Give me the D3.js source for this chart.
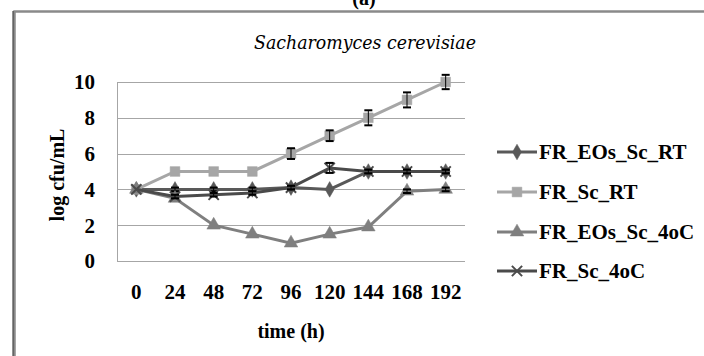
<!DOCTYPE html>
<html>
<head>
<meta charset="utf-8">
<script src="https://cdn.jsdelivr.net/npm/d3@7"></script>
<style>
  body { margin: 0; background: #fff; }
  svg { display: block; }
  text { font-family: "Liberation Serif", "DejaVu Serif", serif; }
</style>
</head>
<body>
<div id="chart"></div>
<script>
const times = ["0", "24", "48", "72", "96", "120", "144", "168", "192"];
const seriesNames = ["FR_EOs_Sc_RT", "FR_Sc_RT", "FR_EOs_Sc_4oC", "FR_Sc_4oC"];
const eosScRT = [4, 4, 4, 4, 4.1, 4, 5, 5, 5];
const scRT = [4, 5, 5, 5, 6, 7, 8, 9, 10];
const eosSc4 = [4, 3.5, 2, 1.5, 1, 1.5, 1.9, 3.9, 4];
const sc4 = [4, 3.6, 3.7, 3.8, 4.1, 5.2, 5, 5, 5];
const eosScRTErr = [0, 0.1, 0.1, 0.1, 0.1, 0, 0.1, 0.1, 0.1];
const scRTErr = [0, 0, 0, 0, 0.3, 0.3, 0.42, 0.42, 0.4];
const eosSc4Err = [0, 0, 0, 0, 0, 0, 0, 0.1, 0.1];
const sc4Err = [0, 0.1, 0.1, 0.1, 0.1, 0.28, 0.1, 0.1, 0.1];
const yTicks = [0, 2, 4, 6, 8, 10];

const width = 704, height = 356;
const svg = d3.select("#chart").append("svg")
  .attr("width", width).attr("height", height);

// frame (runs off the right and bottom edges)
svg.append("rect").attr("x", 14.5).attr("y", 11.5).attr("width", 720).attr("height", 400)
  .attr("fill", "none").attr("stroke", "#8a8a8a").attr("stroke-width", 2.5);
svg.append("line").attr("x1", 13).attr("x2", 13).attr("y1", 11).attr("y2", height)
  .attr("stroke", "#222").attr("stroke-width", 1);

svg.append("text").attr("x", 364).attr("y", 5).attr("text-anchor", "middle")
  .style("font-size", "20px").style("font-weight", "bold").text("(a)");

const x = d3.scaleBand().domain(times).range([117, 465]);
const y = d3.scaleLinear().domain([0, 10]).range([261, 82]);
const cx = d => x(d) + x.bandwidth() / 2;

// grid
svg.append("g").selectAll("line").data(yTicks.slice(1)).join("line")
  .attr("x1", 117).attr("x2", 465)
  .attr("y1", d => Math.round(y(d)) + 0.5).attr("y2", d => Math.round(y(d)) + 0.5)
  .attr("stroke", "#a6a6a6").attr("stroke-width", 1);
svg.append("line").attr("x1", 117).attr("x2", 465).attr("y1", y(0) + 0.5).attr("y2", y(0) + 0.5)
  .attr("stroke", "#a6a6a6");
svg.append("line").attr("x1", 117.5).attr("x2", 117.5).attr("y1", y(10)).attr("y2", y(0))
  .attr("stroke", "#a6a6a6");

// y labels
svg.append("g").selectAll("text").data(yTicks).join("text")
  .attr("x", 95).attr("y", d => y(d)).attr("dy", "0.35em").attr("text-anchor", "end")
  .style("font-size", "21px").style("font-weight", "bold").text(d => d);

// x labels
svg.append("g").selectAll("text").data(times).join("text")
  .attr("x", d => cx(d)).attr("y", 292).attr("dy", "0.35em").attr("text-anchor", "middle")
  .style("font-size", "21px").style("font-weight", "bold").text(d => d);

svg.append("text").attr("x", 291).attr("y", 331).attr("dy", "0.35em").attr("text-anchor", "middle")
  .style("font-size", "20px").style("font-weight", "bold").text("time (h)");

svg.append("text").attr("transform", "translate(57,175) rotate(-90)").attr("dy", "0.35em")
  .attr("text-anchor", "middle")
  .style("font-size", "20px").style("font-weight", "bold").text("log cfu/mL");

// chart title, italic serif
svg.append("text").attr("x", 365).attr("y", 43).attr("dy", "0.35em").attr("text-anchor", "middle")
  .attr("textLength", 222).attr("lengthAdjust", "spacingAndGlyphs")
  .style("font-family", "'DejaVu Serif', serif")
  .style("font-size", "18px").style("font-style", "italic").text("Sacharomyces cerevisiae");

const series = [
  { name: seriesNames[0], values: eosScRT, err: eosScRTErr, color: "#595959", marker: "diamond" },
  { name: seriesNames[1], values: scRT, err: scRTErr, color: "#a6a6a6", marker: "square" },
  { name: seriesNames[2], values: eosSc4, err: eosSc4Err, color: "#7f7f7f", marker: "triangle" },
  { name: seriesNames[3], values: sc4, err: sc4Err, color: "#4a4a4a", marker: "cross" }
];

const symbols = {
  diamond: d3.symbol().type(d3.symbolDiamond).size(70),
  square: d3.symbol().type(d3.symbolSquare).size(95),
  triangle: d3.symbol().type(d3.symbolTriangle).size(80),
  cross: d3.symbol().type(d3.symbolX).size(70)
};

function drawMarker(g, s, px, py) {
  const p = g.append("path").attr("d", symbols[s.marker]()).attr("transform", `translate(${px},${py})`);
  if (s.marker === "cross") {
    p.attr("fill", "none").attr("stroke", s.color).attr("stroke-width", 2);
  } else {
    p.attr("fill", s.color).attr("stroke", s.color).attr("stroke-width", 0.5);
  }
}

const line = d3.line().x((d, i) => cx(times[i])).y(d => y(d));

series.forEach(s => {
  const g = svg.append("g");
  g.append("path").datum(s.values).attr("d", line)
    .attr("fill", "none").attr("stroke", s.color).attr("stroke-width", 3);
  s.values.forEach((v, i) => drawMarker(g, s, cx(times[i]), y(v)));
  // error bars
  s.values.forEach((v, i) => {
    const e = s.err[i];
    if (!e) return;
    const px = cx(times[i]);
    g.append("line").attr("x1", px).attr("x2", px).attr("y1", y(v + e)).attr("y2", y(v - e))
      .attr("stroke", "#000").attr("stroke-width", 1);
    [v + e, v - e].forEach(b => {
      g.append("line").attr("x1", px - 4).attr("x2", px + 4).attr("y1", y(b)).attr("y2", y(b))
        .attr("stroke", "#000").attr("stroke-width", 2);
    });
  });
});

// legend
const legendY = [152, 192, 232, 271];
series.forEach((s, i) => {
  const g = svg.append("g").attr("transform", `translate(0,${legendY[i]})`);
  g.append("line").attr("x1", 497).attr("x2", 537).attr("stroke", s.color).attr("stroke-width", 3);
  drawMarker(g, s, 517, 0);
  g.append("text").attr("x", 539).attr("dy", "0.35em")
    .style("font-size", "21px").style("font-weight", "bold").text(s.name);
});
</script>
</body>
</html>
